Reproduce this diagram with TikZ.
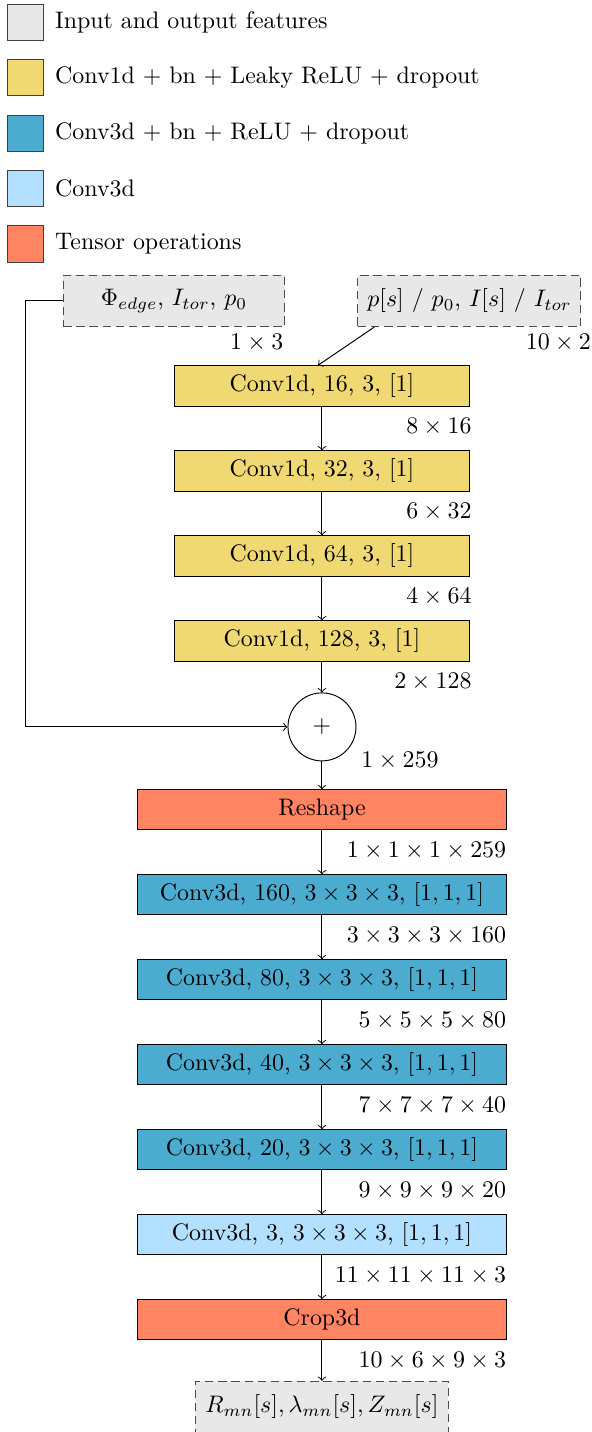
\documentclass[tikz,border=0pt]{standalone}
\usepackage{amssymb}
\usepackage{amsmath}
\usepackage{tikz}
\usetikzlibrary{calc,positioning}

\definecolor{iofill}{HTML}{E8E8E8}
\definecolor{convone}{HTML}{F0D873}
\definecolor{convthree}{HTML}{4BACCF}
\definecolor{convlast}{HTML}{B3E0FF}
\definecolor{tensorop}{HTML}{FF8461}

\begin{document}
\begin{tikzpicture}
        \tikzstyle{every node} = [rectangle]
        \tikzstyle{legbox} = [draw=black!75, minimum size=0.53cm]
        \tikzstyle{io} = [draw=black!70, dash pattern=on 3.5pt off 2pt, fill=iofill, minimum height=0.75cm]
        \tikzstyle{c1d} = [draw, fill=convone, minimum width=4.35cm, minimum height=0.59cm]
        \tikzstyle{c3d} = [draw, fill=convthree, minimum width=5.44cm, minimum height=0.59cm]
        \tikzstyle{dimtext} = [anchor=north east, xshift=4pt, yshift=-1.5pt]
        \useasboundingbox (0,0) rectangle (8.706,-21.06);

        % legend
        \foreach \i/\c/\t in {0/iofill/Input and output features,
                1/convone/Conv1d + bn + Leaky ReLU + dropout,
                2/convthree/Conv3d + bn + ReLU + dropout,
                3/convlast/Conv3d,
                4/tensorop/Tensor operations} {
            \node[legbox, fill=\c] (k\i) at (0.38,-0.324-0.816*\i) {};
            \node[right=1pt of k\i] (kt\i) {\t};
        }

        % inputs
        \node[io, minimum width=3.26cm] (in1) at (2.559,-4.426) {$\Phi_{edge}$, $I_{tor}$, $p_0$};
        \node[io, minimum width=3.28cm] (in2) at (6.904,-4.426) {$p[s]$ / $p_0$, $I[s]$ / $I_{tor}$};
        \node[dimtext, xshift=-1.3pt, yshift=2pt] (s1) at (in1.south east) {$1\times 3$};
        \node[dimtext, xshift=3.5pt, yshift=2pt] (s2) at (in2.south east) {$10\times 2$};

        % conv1d stack
        \node[c1d] (c1) at (4.735,-5.676) {Conv1d, 16, 3, [1]};
        \node[c1d] (c2) at (4.735,-6.926) {Conv1d, 32, 3, [1]};
        \node[c1d] (c3) at (4.735,-8.176) {Conv1d, 64, 3, [1]};
        \node[c1d] (c4) at (4.735,-9.426) {Conv1d, 128, 3, [1]};
        \node[dimtext] at (c1.south east) {$8\times 16$};
        \node[dimtext] at (c2.south east) {$6\times 32$};
        \node[dimtext] at (c3.south east) {$4\times 64$};
        \node[dimtext] at (c4.south east) {$2\times 128$};

        \node[circle, draw, minimum size=1cm] (plus) at (4.735,-10.69) {$+$};
        \node[anchor=north west] (s3) at ($(plus.east)+(-0.05,-0.25)$) {$1\times 259$};

        % conv3d stack
        \node[c3d, fill=tensorop] (r) at (4.735,-11.91) {Reshape};
        \node[c3d] (d1) at (4.735,-13.16) {Conv3d, 160, $3\times3\times3$, $[1,1,1]$};
        \node[c3d] (d2) at (4.735,-14.41) {Conv3d, 80, $3\times3\times3$, $[1,1,1]$};
        \node[c3d] (d3) at (4.735,-15.66) {Conv3d, 40, $3\times3\times3$, $[1,1,1]$};
        \node[c3d] (d4) at (4.735,-16.91) {Conv3d, 20, $3\times3\times3$, $[1,1,1]$};
        \node[c3d, fill=convlast] (d5) at (4.735,-18.16) {Conv3d, 3, $3\times3\times3$, $[1,1,1]$};
        \node[c3d, fill=tensorop] (cr) at (4.735,-19.41) {Crop3d};
        \node[dimtext, xshift=-1pt] at (r.south east) {$1\times1\times1\times259$};
        \node[dimtext, xshift=-1pt] at (d1.south east) {$3\times3\times3\times160$};
        \node[dimtext, xshift=-1pt] at (d2.south east) {$5\times5\times5\times80$};
        \node[dimtext, xshift=-1pt] at (d3.south east) {$7\times7\times7\times40$};
        \node[dimtext, xshift=-1pt] at (d4.south east) {$9\times9\times9\times20$};
        \node[dimtext, xshift=-1pt] at (d5.south east) {$11\times11\times11\times3$};
        \node[dimtext, xshift=-1pt] at (cr.south east) {$10\times6\times9\times3$};

        \node[io, minimum width=3.72cm] (out) at (4.735,-20.69) {$R_{mn}[s], \lambda_{mn}[s], Z_{mn}[s]$};

        % connections
        \coordinate (tap) at ($(in2.south west)+(0.25,0)$);
        \draw[->] (tap) -- ($(c1.north)+(-0.06,0)$);
        \foreach \from/\to in {c1/c2, c2/c3, c3/c4, c4/plus, plus/r, r/d1, d1/d2, d2/d3, d3/d4, d4/d5, d5/cr, cr/out}
            \draw[->] (\from) -- (\to);
        \coordinate (bend) at (0.368,-4.426);
        \draw[->] (in1.west) -- (bend) |- (plus.west);
      \end{tikzpicture}
\end{document}
